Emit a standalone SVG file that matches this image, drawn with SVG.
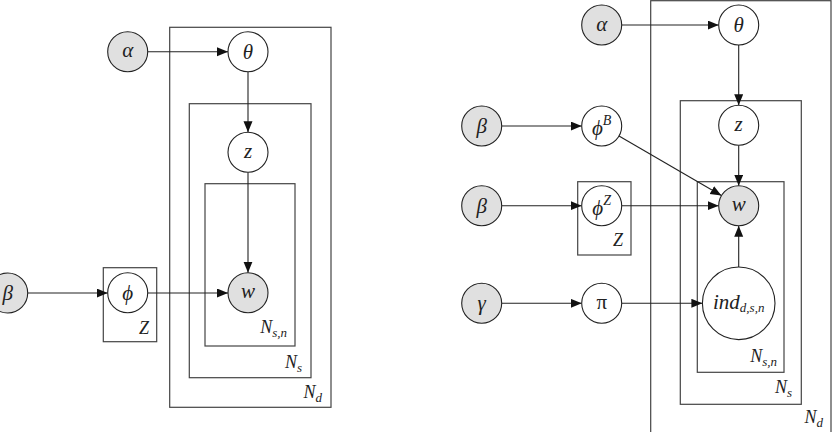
<svg xmlns="http://www.w3.org/2000/svg" width="835" height="432" viewBox="0 0 835 432">
<style>
.node{stroke:#222;stroke-width:1.1;fill:#fff}
.obs{fill:#e0e0e0}
.plate{fill:none;stroke:#444;stroke-width:1.2}
.edge{stroke:#222;stroke-width:1.1;fill:none;marker-end:url(#ah)}
text{font-family:'Liberation Serif','DejaVu Serif',serif;font-style:italic;fill:#222}
.lbl{font-size:21px;text-anchor:middle;dominant-baseline:central}
.pl{font-size:18px;text-anchor:end}
.sub{font-size:13px}
.sup{font-size:14px}
</style>
<defs>
<marker id="ah" markerUnits="userSpaceOnUse" markerWidth="12" markerHeight="10" refX="11" refY="4.5" orient="auto">
<path d="M0,0 L11,4.5 L0,9 z" fill="#111"/>
</marker>
</defs>
<g id="plates">
<rect id="plate-left-Nd" class="plate" x="169.7" y="27.3" width="161.3" height="380"/>
<rect id="plate-left-Ns" class="plate" x="189.3" y="103.7" width="121.7" height="274"/>
<rect id="plate-left-Nsn" class="plate" x="205" y="183.7" width="90" height="162.3"/>
<rect id="plate-left-Z" class="plate" x="103.3" y="267.7" width="53.4" height="74"/>
<text class="pl" x="149" y="334">Z</text>
<text class="pl" x="287" y="333">N<tspan class="sub" dy="4">s,n</tspan></text>
<text class="pl" x="302" y="368">N<tspan class="sub" dy="4">s</tspan></text>
<text class="pl" x="322" y="398">N<tspan class="sub" dy="4">d</tspan></text>
<rect id="plate-right-Nd" class="plate" x="650.7" y="0.7" width="180.3" height="440"/>
<rect id="plate-right-Ns" class="plate" x="680.3" y="100.7" width="121" height="303.6"/>
<rect id="plate-right-Nsn" class="plate" x="697.3" y="181.7" width="86.7" height="190.6"/>
<rect id="plate-right-Z" class="plate" x="577.7" y="181.7" width="53.3" height="73.3"/>
<text class="pl" x="623" y="246">Z</text>
<text class="pl" x="777" y="362">N<tspan class="sub" dy="4">s,n</tspan></text>
<text class="pl" x="792" y="393">N<tspan class="sub" dy="4">s</tspan></text>
<text class="pl" x="823" y="423">N<tspan class="sub" dy="4">d</tspan></text>
</g>
<g id="connectors">
<line class="edge" x1="147.7" y1="51.7" x2="228" y2="51.7"/>
<line class="edge" x1="248" y1="71.7" x2="248" y2="132.3"/>
<line class="edge" x1="248" y1="172.3" x2="248" y2="272.7"/>
<line class="edge" x1="27.7" y1="293" x2="107.7" y2="293"/>
<line class="edge" x1="147.7" y1="293" x2="228" y2="293"/>
<line class="edge" x1="621.7" y1="25" x2="718.7" y2="25"/>
<line class="edge" x1="738.7" y1="45" x2="738.7" y2="105.3"/>
<line class="edge" x1="738.7" y1="145.3" x2="738.7" y2="185.7"/>
<line class="edge" x1="501.7" y1="126" x2="581.7" y2="126"/>
<line class="edge" x1="619" y1="136" x2="721.4" y2="195.6"/>
<line class="edge" x1="501.7" y1="205.7" x2="581.7" y2="205.7"/>
<line class="edge" x1="621.7" y1="205.7" x2="718.7" y2="205.7"/>
<line class="edge" x1="501.7" y1="303.3" x2="581.7" y2="303.3"/>
<line class="edge" x1="621.7" y1="303.3" x2="702.4" y2="303.3"/>
<line class="edge" x1="738.7" y1="267" x2="738.7" y2="225.7"/>
</g>
<g id="L-alpha"><circle class="node obs" cx="127.7" cy="51.7" r="20"/><text class="lbl" x="127.7" y="50">α</text></g>
<g id="L-theta"><circle class="node" cx="248" cy="51.7" r="20"/><text class="lbl" x="248" y="51.7">θ</text></g>
<g id="L-z"><circle class="node" cx="248" cy="152.3" r="20"/><text class="lbl" x="248" y="150.5">z</text></g>
<g id="L-w"><circle class="node obs" cx="248" cy="292.7" r="20"/><text class="lbl" x="248" y="291">w</text></g>
<g id="L-phi"><circle class="node" cx="127.7" cy="292.7" r="20"/><text class="lbl" x="127.7" y="292.7">ϕ</text></g>
<g id="L-beta"><circle class="node obs" cx="7.7" cy="293" r="20"/><text class="lbl" x="7.7" y="293">β</text></g>
<g id="R-alpha"><circle class="node obs" cx="601.7" cy="25" r="20"/><text class="lbl" x="601.7" y="23.5">α</text></g>
<g id="R-theta"><circle class="node" cx="738.7" cy="25" r="20"/><text class="lbl" x="738.7" y="25">θ</text></g>
<g id="R-z"><circle class="node" cx="738.7" cy="125.3" r="20"/><text class="lbl" x="738.7" y="123.5">z</text></g>
<g id="R-w"><circle class="node obs" cx="738.7" cy="205.7" r="20"/><text class="lbl" x="738.7" y="204">w</text></g>
<g id="R-ind"><circle class="node" cx="738.7" cy="303.3" r="36.3"/><text class="lbl" x="738.7" y="301.5">ind<tspan class="sub" dy="5">d,s,n</tspan></text></g>
<g id="R-phiB"><circle class="node" cx="601.7" cy="126" r="20"/><text class="lbl" x="601.7" y="128">ϕ<tspan class="sup" dy="-8">B</tspan></text></g>
<g id="R-phiZ"><circle class="node" cx="601.7" cy="205.7" r="20"/><text class="lbl" x="601.7" y="207.7">ϕ<tspan class="sup" dy="-8">Z</tspan></text></g>
<g id="R-pi"><circle class="node" cx="601.7" cy="303.3" r="20"/><text class="lbl" x="601.7" y="301.5" style="font-style:normal">π</text></g>
<g id="R-beta1"><circle class="node obs" cx="481.7" cy="126" r="20"/><text class="lbl" x="481.7" y="126">β</text></g>
<g id="R-beta2"><circle class="node obs" cx="481.7" cy="205.7" r="20"/><text class="lbl" x="481.7" y="205.7">β</text></g>
<g id="R-gamma"><circle class="node obs" cx="481.7" cy="303.3" r="20"/><text class="lbl" x="481.7" y="303.3">γ</text></g>
</svg>
